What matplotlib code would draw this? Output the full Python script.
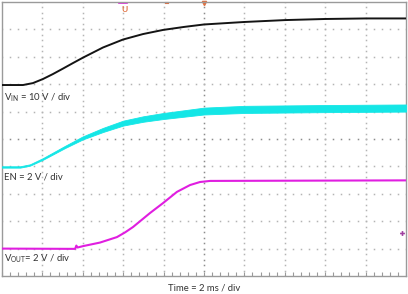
import numpy as np
import matplotlib
matplotlib.use("Agg")
import matplotlib.pyplot as plt

plt.rcParams['font.family'] = ['Lato', 'DejaVu Sans']
plt.rcParams['mathtext.fontset'] = 'custom'
plt.rcParams['mathtext.rm'] = 'Lato'

# time axis: 2 ms / div, 10 divisions; vertical values in divisions from bottom
vin_t = [0, 1.04, 1.53, 2.03, 2.52, 3.02, 3.51, 4.01, 5.0, 5.99, 6.98, 7.97, 9.01, 10.0, 11.98, 14.01, 15.99, 18.02, 20.0]
vin_y = [6.97, 6.97, 7.04, 7.19, 7.37, 7.57, 7.77, 7.97, 8.34, 8.63, 8.83, 8.98, 9.09, 9.18, 9.27, 9.34, 9.38, 9.40, 9.40]

en_t = [0, 0.9, 1.38, 2.02, 2.57, 3.12, 4.0, 5.0, 6.0, 7.0, 8.0, 10.0, 12.0, 16.0, 20.0]
en_y = [3.98, 3.98, 4.05, 4.27, 4.49, 4.71, 5.04, 5.33, 5.58, 5.73, 5.84, 6.02, 6.08, 6.11, 6.13]
en_w = [0.05, 0.05, 0.05, 0.06, 0.07, 0.08, 0.11, 0.15, 0.18, 0.20, 0.22, 0.25, 0.26, 0.26, 0.26]

vout_t = [0, 3.62, 3.68, 3.74, 4.01, 4.85, 5.69, 6.09, 6.49, 7.33, 7.97, 8.66, 9.31, 9.8, 10.3, 20.0]
vout_y = [1.0, 0.99, 1.11, 1.04, 1.09, 1.22, 1.42, 1.59, 1.79, 2.30, 2.66, 3.07, 3.32, 3.43, 3.47, 3.49]

labels = [r'$\mathregular{V_{IN}}$ = 10 V / div', 'EN = 2 V / div', r'$\mathregular{V_{OUT}}$= 2 V / div']
label_y = [6.5, 3.6, 0.64]
xlabel = 'Time = 2 ms / div'

fig = plt.figure(figsize=(4.08, 2.94), dpi=100)
ax = fig.add_axes([2/408, 18/294, 404/408, 274/294])
ax.set_xlim(0, 20)
ax.set_ylim(0, 10)
ax.set_xticks([])
ax.set_yticks([])
for s in ax.spines.values():
    s.set_color('#9a9a9a')
    s.set_linewidth(1.0)

# dotted scope graticule
gc = '#b4b4b4'
for k in range(1, 10):
    yy = np.arange(0, 10.01, 0.2)
    ax.plot(np.full_like(yy, 2*k), yy, ls='none', marker='s', ms=1.1, mew=0, color=gc if k != 5 else '#8c8c8c', zorder=1)
    xx = np.arange(0, 20.01, 0.4)
    ax.plot(xx, np.full_like(xx, k), ls='none', marker='s', ms=1.1, mew=0, color=gc if k != 5 else '#8c8c8c', zorder=1)
# ticks on bottom border
xx = np.arange(0, 20.01, 0.4)
ax.plot(xx, np.full_like(xx, 0.06), ls='none', marker='|', ms=3, mew=0.8, color='#9a9a9a', clip_on=False)

ax.plot(vin_t, vin_y, color='#141414', lw=1.4, zorder=3)
en_y = np.array(en_y)
en_w = np.array(en_w)
ax.fill_between(en_t, en_y - en_w/2, en_y + en_w/2, color='#14e6e6', lw=0.6, edgecolor='#14e6e6', zorder=3)
ax.plot(vout_t, vout_y, color='#e01ee0', lw=1.5, zorder=3)

for txt, yv in zip(labels, label_y):
    ax.text(0.1, yv, txt, fontsize=6.8, color='#333333', va='center', ha='left')
fig.text(204/408, 6/294, xlabel, fontsize=6.8, color='#333333', ha='center', va='center')

# scope markers
ax.text(6.05, 9.74, 'U', fontsize=6, color='#e07040', ha='center', va='center', fontweight='bold')
ax.plot([5.8, 6.2], [9.97, 9.97], color='#e01ee0', lw=1.2, clip_on=False)
ax.plot([8.1, 8.2], [9.97, 9.97], color='#e07040', lw=1.5, clip_on=False)
ax.plot([10.0], [9.95], marker='v', ms=3, color='#e07040', clip_on=False)
ax.plot([19.8], [1.58], marker='P', ms=3.5, mew=0, color='#a040a0')

fig.savefig('out.png', dpi=100)
